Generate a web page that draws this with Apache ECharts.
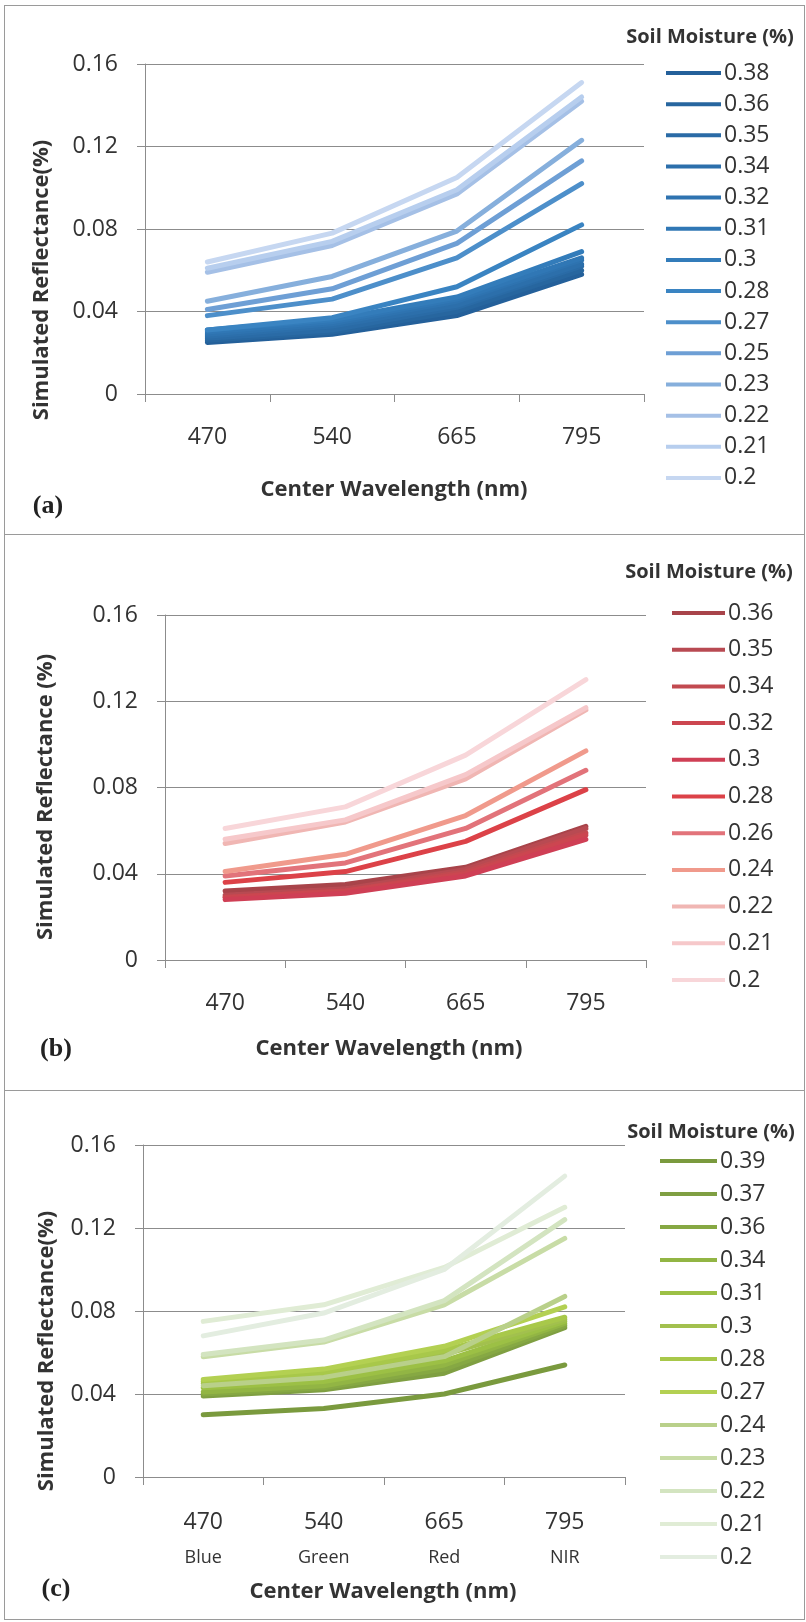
<!DOCTYPE html>
<html>
<head>
<meta charset="utf-8">
<script src="https://cdn.jsdelivr.net/npm/echarts@6/dist/echarts.min.js"></script>
<style>
  html, body { margin: 0; padding: 0; background: #fff; }
  #frame { position: absolute; left: 4px; top: 5px; width: 801px; height: 1615px; border: 1px solid #9a9a9a; box-sizing: border-box; }
  .sep { position: absolute; left: 4px; width: 801px; height: 0; border-top: 1px solid #9a9a9a; }
  #chart { position: absolute; left: 0; top: 0; width: 806px; height: 1622px; }
</style>
</head>
<body>
<div id="frame"></div>
<div class="sep" style="top:534px"></div>
<div class="sep" style="top:1090px"></div>
<div id="chart"></div>
<script>
// Band centre wavelengths (nm) and their band names
const wavelengths = ['470', '540', '665', '795'];
const bandNames = ['Blue', 'Green', 'Red', 'NIR'];
const reflectanceTicks = [0, 0.04, 0.08, 0.12, 0.16];

// (a) soil moisture levels and simulated reflectance at 470/540/665/795 nm
const moistureA = ['0.38', '0.36', '0.35', '0.34', '0.32', '0.31', '0.3', '0.28', '0.27', '0.25', '0.23', '0.22', '0.21', '0.2'];
const reflectanceA = [
  [0.025, 0.029, 0.038, 0.058],
  [0.026, 0.030, 0.040, 0.060],
  [0.027, 0.031, 0.042, 0.062],
  [0.028, 0.033, 0.043, 0.063],
  [0.029, 0.034, 0.045, 0.065],
  [0.030, 0.035, 0.046, 0.066],
  [0.031, 0.036, 0.047, 0.069],
  [0.031, 0.037, 0.052, 0.082],
  [0.038, 0.046, 0.066, 0.102],
  [0.041, 0.051, 0.073, 0.113],
  [0.045, 0.057, 0.079, 0.123],
  [0.059, 0.072, 0.097, 0.142],
  [0.061, 0.074, 0.099, 0.144],
  [0.064, 0.078, 0.105, 0.151]
];

// (b)
const moistureB = ['0.36', '0.35', '0.34', '0.32', '0.3', '0.28', '0.26', '0.24', '0.22', '0.21', '0.2'];
const reflectanceB = [
  [0.032, 0.035, 0.043, 0.062],
  [0.030, 0.033, 0.042, 0.061],
  [0.029, 0.032, 0.041, 0.059],
  [0.029, 0.032, 0.040, 0.058],
  [0.028, 0.031, 0.039, 0.056],
  [0.036, 0.041, 0.055, 0.079],
  [0.039, 0.045, 0.061, 0.088],
  [0.041, 0.049, 0.067, 0.097],
  [0.054, 0.064, 0.084, 0.116],
  [0.056, 0.065, 0.086, 0.117],
  [0.061, 0.071, 0.095, 0.130]
];

// (c)
const moistureC = ['0.39', '0.37', '0.36', '0.34', '0.31', '0.3', '0.28', '0.27', '0.24', '0.23', '0.22', '0.21', '0.2'];
const reflectanceC = [
  [0.030, 0.033, 0.040, 0.054],
  [0.039, 0.042, 0.050, 0.072],
  [0.040, 0.043, 0.052, 0.073],
  [0.041, 0.044, 0.054, 0.074],
  [0.043, 0.046, 0.056, 0.075],
  [0.045, 0.049, 0.059, 0.076],
  [0.046, 0.050, 0.061, 0.077],
  [0.047, 0.052, 0.063, 0.082],
  [0.044, 0.048, 0.058, 0.087],
  [0.058, 0.065, 0.083, 0.115],
  [0.059, 0.066, 0.085, 0.124],
  [0.075, 0.083, 0.101, 0.130],
  [0.068, 0.079, 0.100, 0.145]
];

// Line colours, one per moisture level
const coloursA = ['#24609a', '#27669f', '#2a6ba6', '#2c6fab', '#2e73b0', '#3077b5', '#337cba', '#3a84c2', '#4d8fca', '#6e9fd5', '#86afdc', '#a5c0e6', '#b7ceee', '#c6d7f1'];
const coloursB = ['#a8444a', '#b84a52', '#c24a50', '#cc4650', '#cf3f55', '#dc4248', '#e2737a', '#f09a8c', '#f0b6b3', '#f6c8ca', '#f8d6d9'];
const coloursC = ['#7a9a3e', '#7f9f42', '#86a843', '#92b544', '#9cc045', '#a2c04e', '#a8c84a', '#b3d052', '#b9d08a', '#c8dca6', '#d3e4c0', '#e0ecd5', '#e3ede0'];

const SANS = '"Open Sans", "Noto Sans", sans-serif';
const SERIF = '"Liberation Serif", "DejaVu Serif", serif';
const INK = '#333333';
const AXIS = '#8c8c8c';

const panels = [
  {
    key: 'a', moisture: moistureA, values: reflectanceA, colours: coloursA, bands: false,
    grid: { left: 145, top: 64, width: 499, height: 330 },
    legend: { left: 666, top: 61, itemWidth: 55, itemGap: 7.15 },
    legendTitle: [710, 37],
    yTitle: { text: 'Simulated Reflectance(%)', x: 42, y: 280 },
    xTitle: [394, 490],
    tag: { text: '(a)', x: 48, y: 506 }
  },
  {
    key: 'b', moisture: moistureB, values: reflectanceB, colours: coloursB, bands: false,
    grid: { left: 165, top: 615, width: 481, height: 345 },
    legend: { left: 672, top: 601, itemWidth: 53, itemGap: 12.7 },
    legendTitle: [709, 572],
    yTitle: { text: 'Simulated Reflectance (%)', x: 46, y: 797 },
    xTitle: [389, 1049],
    tag: { text: '(b)', x: 56, y: 1049 }
  },
  {
    key: 'c', moisture: moistureC, values: reflectanceC, colours: coloursC, bands: true,
    grid: { left: 143, top: 1145, width: 482, height: 332 },
    legend: { left: 660, top: 1149, itemWidth: 57, itemGap: 9 },
    legendTitle: [711, 1132],
    yTitle: { text: 'Simulated Reflectance(%)', x: 47, y: 1351 },
    xTitle: [383, 1592],
    tag: { text: '(c)', x: 56, y: 1589 }
  }
];

const grids = [], xAxes = [], yAxes = [], series = [], legends = [], graphics = [];

panels.forEach((p, i) => {
  grids.push(Object.assign({ containLabel: false, outerBoundsMode: 'none' }, p.grid));

  xAxes.push({
    type: 'category', gridIndex: i, data: wavelengths, boundaryGap: true,
    axisLine: { lineStyle: { color: AXIS, width: 1 } },
    axisTick: { show: true, length: 8, lineStyle: { color: AXIS } },
    splitLine: { show: false },
    axisLabel: p.bands ? {
      margin: 27,
      formatter: (v, idx) => '{v|' + v + '}\n{b|' + bandNames[idx] + '}',
      rich: {
        v: { fontFamily: SANS, fontSize: 23, color: INK, lineHeight: 36 },
        b: { fontFamily: SANS, fontSize: 18, color: INK, lineHeight: 36 }
      }
    } : { margin: 32, fontFamily: SANS, fontSize: 23, color: INK, lineHeight: 23 }
  });

  yAxes.push({
    type: 'value', gridIndex: i,
    min: reflectanceTicks[0],
    max: reflectanceTicks[reflectanceTicks.length - 1],
    interval: reflectanceTicks[1] - reflectanceTicks[0],
    axisLine: { show: true, lineStyle: { color: AXIS, width: 1 } },
    axisTick: { show: true, length: 8, lineStyle: { color: AXIS } },
    splitLine: { show: true, lineStyle: { color: AXIS, width: 1 } },
    axisLabel: { margin: 27, fontFamily: SANS, fontSize: 23, color: INK }
  });

  const names = [];
  p.moisture.forEach((m, k) => {
    const name = p.key + ':' + m;
    names.push(name);
    series.push({
      type: 'line', name: name, xAxisIndex: i, yAxisIndex: i,
      data: p.values[k], symbol: 'none', showSymbol: false,
      color: p.colours[k],
      lineStyle: { width: 5, color: p.colours[k], cap: 'round', join: 'round' },
      emphasis: { disabled: true },
      z: 2
    });
  });

  legends.push({
    orient: 'vertical', left: p.legend.left, top: p.legend.top,
    itemWidth: p.legend.itemWidth, itemHeight: 4, itemGap: p.legend.itemGap,
    icon: 'rect', selectedMode: false, padding: 0,
    data: names,
    formatter: n => n.split(':')[1],
    textStyle: { fontFamily: SANS, fontSize: 23, color: INK, lineHeight: 24, padding: [0, 0, 0, -2] }
  });

  graphics.push(
    { type: 'text', x: p.legendTitle[0], y: p.legendTitle[1],
      style: { text: 'Soil Moisture (%)', font: 'bold 20px ' + SANS, fill: INK, textAlign: 'center', textVerticalAlign: 'middle' } },
    { type: 'text', x: p.yTitle.x, y: p.yTitle.y, rotation: Math.PI / 2,
      style: { text: p.yTitle.text, font: 'bold 22px ' + SANS, fill: INK, textAlign: 'center', textVerticalAlign: 'middle' } },
    { type: 'text', x: p.xTitle[0], y: p.xTitle[1],
      style: { text: 'Center Wavelength (nm)', font: 'bold 22px ' + SANS, fill: INK, textAlign: 'center', textVerticalAlign: 'middle' } },
    { type: 'text', x: p.tag.x, y: p.tag.y,
      style: { text: p.tag.text, font: 'bold 26px ' + SERIF, fill: '#222', textAlign: 'center', textVerticalAlign: 'middle' } }
  );
});

const chart = echarts.init(document.getElementById('chart'), null, { renderer: 'canvas' });
chart.setOption({
  animation: false,
  backgroundColor: 'transparent',
  grid: grids,
  xAxis: xAxes,
  yAxis: yAxes,
  legend: legends,
  series: series,
  graphic: graphics
});
</script>
</body>
</html>
